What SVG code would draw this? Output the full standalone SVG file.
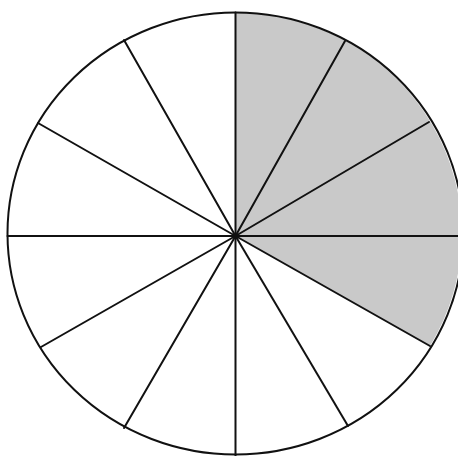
<svg xmlns="http://www.w3.org/2000/svg" width="458" height="456" viewBox="0 0 458 456">
<style>
.ln{stroke:#111;stroke-width:2;fill:none;stroke-linecap:round}
.rim{stroke:#111;stroke-width:2;fill:none}
.shade{fill:#c9c9c9;stroke:none}
</style>
<rect width="458" height="456" fill="#ffffff"/>
<g id="shaded-sectors">
<path class="shade" d="M235.5,236 L235.5,12.5 A228,221 0 0,1 430,346 Z"/>
</g>
<g id="circle">
<ellipse class="rim" cx="235.5" cy="233.5" rx="228" ry="221"/>
</g>
<g id="connectors">
<line class="ln" x1="235.5" y1="236" x2="235.5" y2="12.5"/>
<line class="ln" x1="235.5" y1="236" x2="235.5" y2="456"/>
<line class="ln" x1="7.5" y1="236" x2="458" y2="236"/>
<line class="ln" x1="235.5" y1="236" x2="345" y2="41"/>
<line class="ln" x1="235.5" y1="236" x2="429" y2="122"/>
<line class="ln" x1="235.5" y1="236" x2="430" y2="346"/>
<line class="ln" x1="235.5" y1="236" x2="348" y2="426"/>
<line class="ln" x1="235.5" y1="236" x2="124" y2="428"/>
<line class="ln" x1="235.5" y1="236" x2="41" y2="347"/>
<line class="ln" x1="235.5" y1="236" x2="38" y2="123"/>
<line class="ln" x1="235.5" y1="236" x2="124" y2="40"/>
</g>
</svg>
